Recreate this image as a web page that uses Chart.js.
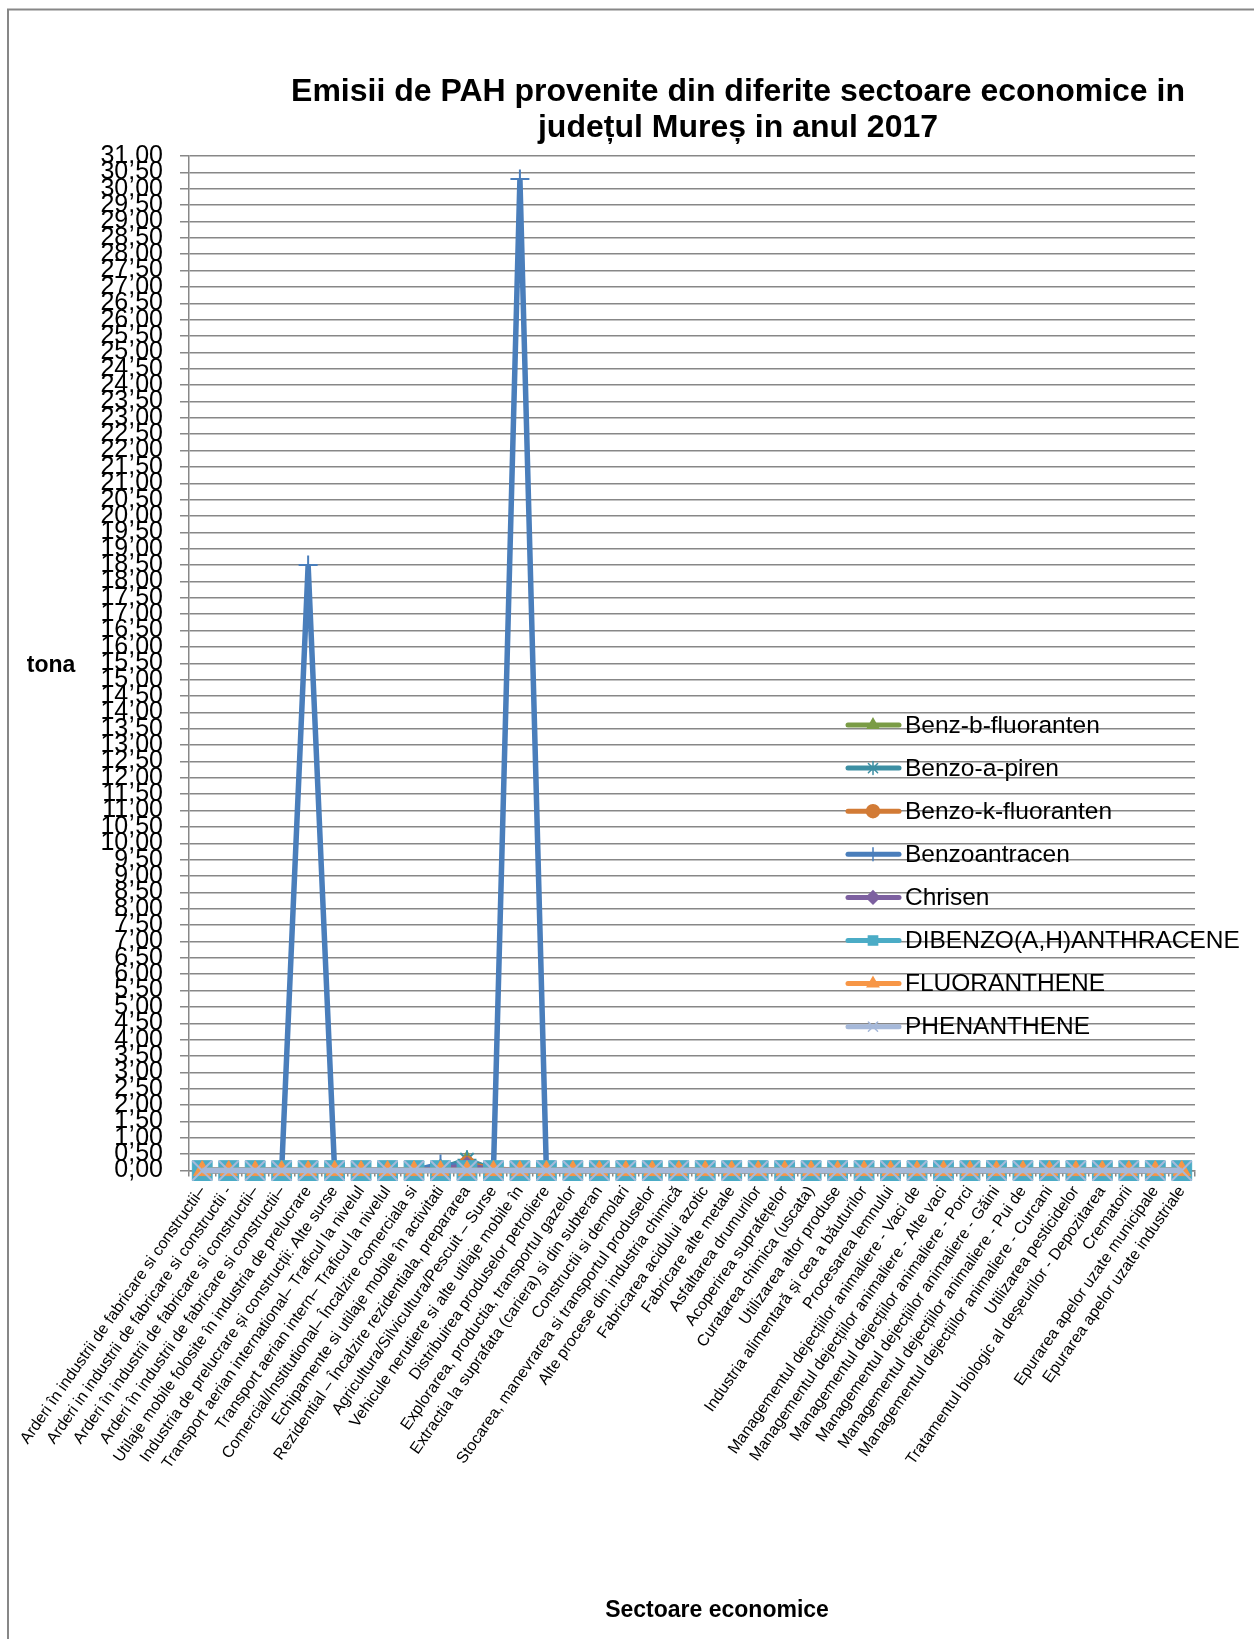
<!DOCTYPE html>
<html>
<head>
<meta charset="utf-8">
<script src="https://cdn.jsdelivr.net/npm/chart.js@4.4.0/dist/chart.umd.min.js"></script>
<style>
  html, body { margin: 0; padding: 0; background: #fff; }
</style>
</head>
<body>
<canvas id="chart" width="1254" height="1639"></canvas>
<script>
// Categories (sectoare economice)
const sectors = [
  "Arderi în industrii de fabricare si constructii–",
  "Arderi in industrii de fabricare si constructii -",
  "Arderi în industrii de fabricare si constructii–",
  "Arderi în industrii de fabricare si constructii–",
  "Utilaje mobile folosite în industria de prelucrare",
  "Industria de prelucrare și construcții: Alte surse",
  "Transport aerian international– Traficul la nivelul",
  "Transport aerian intern– Traficul la nivelul",
  "Comercial/Institutional– Încalzire comerciala si",
  "Echipamente si utilaje mobile în activitati",
  "Rezidential – Încalzire rezidentiala, prepararea",
  "Agricultura/Silvicultura/Pescuit – Surse",
  "Vehicule nerutiere si alte utilaje mobile în",
  "Distribuirea produselor petroliere",
  "Explorarea, productia, transportul gazelor",
  "Extractia la suprafata (cariera) si din subteran",
  "Constructii si demolari",
  "Stocarea, manevrarea si transportul produselor",
  "Alte procese din industria chimică",
  "Fabricarea acidului azotic",
  "Fabricare alte metale",
  "Asfaltarea drumurilor",
  "Acoperirea suprafețelor",
  "Curatarea chimica (uscata)",
  "Utilizarea altor produse",
  "Industria alimentară și cea a băuturilor",
  "Procesarea lemnului",
  "Managementul dejecțiilor animaliere - Vaci de",
  "Managementul dejecțiilor animaliere - Alte vaci",
  "Managementul dejecțiilor animaliere - Porci",
  "Managementul dejecțiilor animaliere - Găini",
  "Managementul dejecțiilor animaliere - Pui de",
  "Managementul dejecțiilor animaliere - Curcani",
  "Utilizarea pesticidelor",
  "Tratamentul biologic al deșeurilor - Depozitarea",
  "Crematorii",
  "Epurarea apelor uzate municipale",
  "Epurarea apelor uzate industriale"
];

// Emissions (tona) per series
const benzBFluoranten    = [0,0,0,0,0,0,0,0,0,0.05,0.30,0.02,0,0,0,0,0,0,0,0,0,0,0,0,0,0,0,0,0,0,0,0,0,0,0,0,0,0];
const benzoAPiren        = [0,0,0,0,0,0,0,0,0,0.05,0.33,0.02,0,0,0,0,0,0,0,0,0,0,0,0,0,0,0,0,0,0,0,0,0,0,0,0,0,0];
const benzoKFluoranten   = [0,0,0,0,0,0,0,0,0,0.04,0.20,0.05,0,0,0,0,0,0,0,0,0,0,0,0,0,0,0,0,0,0,0,0,0,0,0,0,0,0];
const benzoantracen      = [0,0,0,0,18.50,0,0,0,0,0.20,0.10,0,30.30,0,0,0,0,0,0,0,0,0,0,0,0,0,0,0,0,0,0,0,0,0,0,0,0,0];
const chrisen            = [0,0,0,0,0,0,0,0,0,0.04,0.15,0.02,0,0,0,0,0,0,0,0,0,0,0,0,0,0,0,0,0,0,0,0,0,0,0,0,0,0];
const dibenzoAnthracene  = [0,0,0,0,0,0,0,0,0,0,0,0,0,0,0,0,0,0,0,0,0,0,0,0,0,0,0,0,0,0,0,0,0,0,0,0,0,0];
const fluoranthene       = [0,0,0,0,0,0,0,0,0,0,0,0,0,0,0,0,0,0,0,0,0,0,0,0,0,0,0,0,0,0,0,0,0,0,0,0,0,0];
const phenanthene        = [0,0,0,0,0,0,0,0,0,0,0,0,0,0,0,0,0,0,0,0,0,0,0,0,0,0,0,0,0,0,0,0,0,0,0,0,0,0];

const seriesNames = ["Benz-b-fluoranten", "Benzo-a-piren", "Benzo-k-fluoranten", "Benzoantracen",
                     "Chrisen", "DIBENZO(A,H)ANTHRACENE", "FLUORANTHENE", "PHENANTHENE"];
const seriesData = [benzBFluoranten, benzoAPiren, benzoKFluoranten, benzoantracen,
                    chrisen, dibenzoAnthracene, fluoranthene, phenanthene];

// Styling
const colors = ['#7A9C46', '#3C8FA3', '#D27B36', '#4A7EBB', '#7D60A0', '#4BACC6', '#F79646', '#A6B9DA'];
const markers = ['triangle', 'star', 'circle', 'cross', 'rectRot', 'rect', 'triangle', 'crossRot'];
const markerRadius = [10, 9.5, 8, 9.5, 9, 14, 10, 14];
const FONT = '"Liberation Sans", Arial, sans-serif';

Chart.defaults.font.family = FONT;
Chart.defaults.color = '#000';

const datasets = seriesNames.map((name, i) => ({
  label: name,
  data: seriesData[i],
  borderColor: colors[i],
  backgroundColor: colors[i],
  borderWidth: 5.5,
  pointStyle: markers[i],
  pointRadius: markerRadius[i],
  pointBorderWidth: (markers[i] === 'cross' || markers[i] === 'crossRot' || markers[i] === 'star') ? 2 : 1,
  pointBackgroundColor: colors[i],
  pointBorderColor: colors[i],
  tension: 0,
  clip: false,
  order: seriesNames.length - i   // later series on top, like Excel
}));

// Titles, legend and frame drawn like the Excel export
const decorations = {
  id: 'decorations',
  afterDraw(chart) {
    const ctx = chart.ctx;
    ctx.save();
    // outer frame
    ctx.strokeStyle = '#878787';
    ctx.lineWidth = 2;
    ctx.beginPath();
    ctx.moveTo(8, 1639); ctx.lineTo(8, 9.5); ctx.lineTo(1254, 9.5);
    ctx.stroke();

    // chart title
    ctx.fillStyle = '#000';
    ctx.textAlign = 'center';
    ctx.textBaseline = 'middle';
    ctx.font = 'bold 32px ' + FONT;
    ctx.fillText('Emisii de PAH provenite din diferite sectoare economice in', 738, 92);
    ctx.fillText('județul Mureș in anul 2017', 738, 128);

    // axis titles
    ctx.font = 'bold 23px ' + FONT;
    ctx.fillText('tona', 51, 666);
    ctx.fillText('Sectoare economice', 717, 1611);

    // legend
    ctx.textAlign = 'left';
    ctx.font = '24.5px ' + FONT;
    chart.data.datasets.forEach((ds, i) => {
      const y = 725 + i * 43.1;
      ctx.strokeStyle = ds.borderColor;
      ctx.fillStyle = ds.borderColor;
      ctx.lineWidth = 5;
      ctx.lineCap = 'round';
      ctx.beginPath();
      ctx.moveTo(848, y); ctx.lineTo(899, y);
      ctx.stroke();
      ctx.lineWidth = 1.5;
      Chart.helpers.drawPoint(ctx, {pointStyle: ds.pointStyle, radius: 6.5, borderWidth: 1.5, rotation: 0}, 873, y);
      ctx.fillStyle = '#000';
      ctx.fillText(ds.label, 905, y + 1);
    });
    ctx.restore();
  }
};

new Chart(document.getElementById('chart').getContext('2d'), {
  type: 'line',
  data: { labels: sectors, datasets: datasets },
  options: {
    responsive: false,
    animation: false,
    layout: { padding: { top: 156, right: 59, bottom: 0, left: 0 } },
    plugins: {
      legend: { display: false },
      title: { display: false },
      tooltip: { enabled: false }
    },
    scales: {
      x: {
        offset: true,
        grid: { drawOnChartArea: false, offset: true, tickLength: 6, color: '#878787', lineWidth: 1.5 },
        border: { color: '#878787', width: 1.5 },
        ticks: { autoSkip: false, minRotation: 55, maxRotation: 55, padding: 6, font: { size: 16 }, color: '#000' },
        afterFit(scale) { scale.height = 468.4; }
      },
      y: {
        min: 0,
        max: 31,
        grid: { color: '#878787', lineWidth: 1.5, tickLength: 9 },
        border: { color: '#878787', width: 1.5 },
        ticks: {
          stepSize: 0.5,
          autoSkip: false,
          padding: 17,
          font: { size: 25 },
          color: '#000',
          callback: v => v.toFixed(2).replace('.', ',')
        },
        afterFit(scale) { scale.width = 189; }
      }
    }
  },
  plugins: [decorations]
});
</script>
</body>
</html>
